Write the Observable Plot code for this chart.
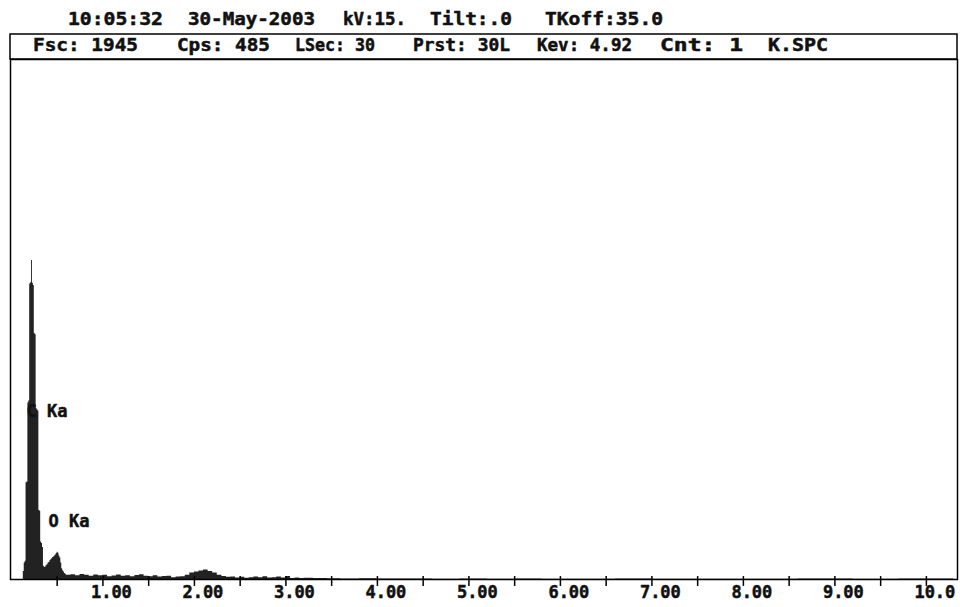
<!DOCTYPE html>
<html><head><meta charset="utf-8">
<script src="https://cdn.jsdelivr.net/npm/d3@7"></script>
<script src="https://cdn.jsdelivr.net/npm/@observablehq/plot@0.6"></script>
<style>
html,body{margin:0;padding:0;background:#fff;}
#chart svg{display:block;}
</style></head><body><div id="chart"></div>
<script>
// ---- data ----
const fullScale = 1945;
const peakEnergy = [0.12,0.13,0.14,0.15,0.16,0.17,0.18,0.19,0.20,0.21,0.22,0.23,0.24,0.25,0.26,0.27,0.28,0.29,0.30,0.31,0.32,0.33,0.34,0.35,0.36,0.37,0.38,0.39,0.40,0.41,0.42,0.43,0.44,0.45,0.46,0.47,0.48,0.49,0.50,0.51,0.52,0.53,0.54,0.55,0.56,0.57,0.58,0.59];
const peakCounts = [0,30,62,68,362,365,660,668,1105,1110,1193,1108,1100,920,915,640,635,630,258,255,140,135,120,50,45,47,52,55,62,64,70,74,78,82,84,88,92,97,102,98,88,80,62,40,33,28,22,20];
const bgEnergy = [0.60,0.65,0.70,0.75,0.80,0.85,0.90,0.95,1.00,1.05,1.10,1.15,1.20,1.25,1.30,1.35,1.40,1.45,1.50,1.55,1.60,1.65,1.70,1.75,1.80,1.85,1.90,1.95,2.00,2.05,2.10,2.15,2.20,2.25,2.30,2.35,2.40,2.45,2.50,2.55,2.60,2.65,2.70,2.75,2.80,2.85,2.90,2.95,3.00,3.05,3.10,3.15,3.20,3.30,3.45,3.60,3.80,4.00,4.30,4.60,4.90,5.20,5.50,5.80,6.20,6.60,7.00,7.40,8.00,8.60,9.20,9.70,10.30];
const bgCounts = [16,18,14,19,16,12,17,14,16,10,13,17,12,14,10,15,18,12,10,14,9,11,12,7,9,10,16,24,28,32,36,30,24,16,11,8,9,6,8,5,7,9,7,10,6,7,9,6,11,4,6,4,5,4,3,2,3,2,2,1,2,1,2,1,1,2,1,1,1,2,1,2,0];
const tickEnergy = [0.5,1,1.5,2,2.5,3,3.5,4,4.5,5,5.5,6,6.5,7,7.5,8,8.5,9,9.5,10];
const labelEnergy = [1,2,3,4,5,6,7,8,9,10];
const tickLabels = ["1.00","2.00","3.00","4.00","5.00","6.00","7.00","8.00","9.00","10.0"];
const lineNames = ["C Ka","O Ka"];
const lineEnergy = [0.165,0.405];
const lineCounts = [628,217];
const headerLine1 = ["10:05:32","30-May-2003","kV:15.","Tilt:.0","TKoff:35.0"];
const headerLine2 = ["Fsc: 1945","Cps: 485","LSec: 30","Prst: 30L","Kev: 4.92","Cnt: 1","K.SPC"];

// ---- layout (pixels) ----
const line1Pos = [[68,163],[188,315],[343,406],[430,512],[545,663]];
const line2Pos = [[33,138],[177,270],[295,375],[413,510],[537,632],[660,743],[768,828]];

const spec = peakEnergy.map((e,i)=>({e, c: peakCounts[i]}))
  .concat(bgEnergy.map((e,i)=>({e, c: bgCounts[i]})));
const lines = lineNames.map((n,i)=>({n, e: lineEnergy[i], c: lineCounts[i]}));

const font = {fontFamily:"DejaVu Sans Mono", fontWeight:"bold", fontSize:17, fill:"#111", stroke:"#111", strokeWidth:0.5};

const chart = Plot.plot({
  width:960, height:607,
  marginLeft:10, marginRight:3, marginTop:59, marginBottom:28,
  style:{background:"#fff"},
  x:{domain:[-0.01,10.34], axis:null},
  y:{domain:[0,fullScale], axis:null},
  marks:[
    Plot.areaY(spec,{x:"e", y:"c", curve:"step-after", fill:"#222"}),
    Plot.frame({stroke:"#000", strokeWidth:1.5}),
    Plot.ruleX(tickEnergy,{x:d=>d, y1:-26, y2:11, stroke:"#000", strokeWidth:1.5}),
    Plot.text(labelEnergy,{x:d=>d, text:(d,i)=>tickLabels[i], frameAnchor:"bottom", dy:18.5, dx:-12, textAnchor:"start", ariaLabel:"ticklabels", ...font}),
    Plot.text(lines,{x:"e", y:"c", text:"n", textAnchor:"start", ariaLabel:"linelabels", ...font})
  ]
});
document.getElementById("chart").appendChild(chart);

const svg = d3.select(chart);
svg.selectAll('g[aria-label="ticklabels"] text').attr("textLength",47).attr("lengthAdjust","spacingAndGlyphs");
svg.selectAll('g[aria-label="linelabels"] text').attr("textLength",46).attr("lengthAdjust","spacingAndGlyphs");

// header box
svg.append("rect").attr("x",10).attr("y",34).attr("width",947).attr("height",25)
  .attr("fill","none").attr("stroke","#000").attr("stroke-width",1.5);
const hdr = svg.append("g").attr("font-family","DejaVu Sans Mono").attr("font-weight","bold")
  .attr("font-size",17).attr("fill","#111").attr("stroke","#111").attr("stroke-width",0.5)
  .attr("text-anchor","start");
headerLine1.forEach((t,i)=>{
  hdr.append("text").attr("x",line1Pos[i][0]).attr("y",25).attr("textLength",line1Pos[i][1]-line1Pos[i][0])
    .attr("lengthAdjust","spacingAndGlyphs").text(t);
});
headerLine2.forEach((t,i)=>{
  hdr.append("text").attr("x",line2Pos[i][0]).attr("y",51).attr("textLength",line2Pos[i][1]-line2Pos[i][0])
    .attr("lengthAdjust","spacingAndGlyphs").text(t);
});
</script></body></html>
